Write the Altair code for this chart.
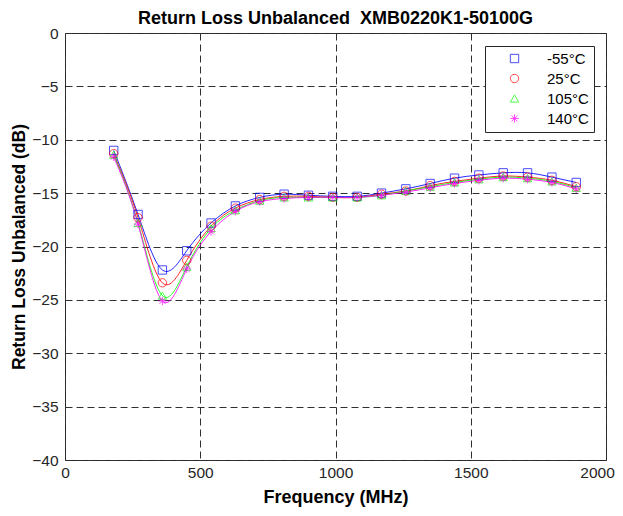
import altair as alt
import pandas as pd

freq = [180, 270, 360, 450, 540, 630, 720, 810, 900, 990, 1080, 1170, 1260, 1350, 1440, 1530, 1620, 1710, 1800, 1890]
m55 = [-11.0, -17.0, -22.2, -20.4, -17.8, -16.2, -15.4, -15.1, -15.2, -15.3, -15.3, -15.0, -14.6, -14.1, -13.6, -13.3, -13.1, -13.1, -13.5, -14.0]
t25 = [-11.3, -17.3, -23.4, -21.3, -18.1, -16.4, -15.6, -15.3, -15.3, -15.4, -15.4, -15.1, -14.8, -14.3, -13.9, -13.6, -13.4, -13.5, -13.8, -14.4]
t105 = [-11.4, -17.8, -24.6, -21.9, -18.3, -16.6, -15.7, -15.4, -15.4, -15.4, -15.4, -15.2, -14.8, -14.4, -14.0, -13.7, -13.5, -13.6, -13.9, -14.5]
t140 = [-11.6, -17.9, -25.1, -22.1, -18.6, -16.7, -15.8, -15.5, -15.4, -15.4, -15.4, -15.2, -14.9, -14.5, -14.1, -13.8, -13.6, -13.7, -14.0, -14.6]

labels = ["-55°C", "25°C", "105°C", "140°C"]
colors = ["#0000ff", "#ff0000", "#00ff00", "#ff00ff"]
asterisk = "M-1,0L1,0M0,-1L0,1M-0.7,-0.7L0.7,0.7M-0.7,0.7L0.7,-0.7"
shapes = ["square", "circle", "triangle-up", asterisk]

rows = []
for lab, series in zip(labels, [m55, t25, t105, t140]):
    for f, v in zip(freq, series):
        rows.append({"freq": f, "rl": v, "temp": lab})
df = pd.DataFrame(rows)

FONT = "Liberation Sans"
TXT = "#262626"

x = alt.X("freq:Q", title="Frequency (MHz)",
          scale=alt.Scale(domain=[0, 2000], nice=False),
          axis=alt.Axis(values=[0, 500, 1000, 1500, 2000], format="d", labelFlush=False,
                        labelOffset={"condition": {"test": "datum.value == 2000", "value": -9}, "value": 0}))
y = alt.Y("rl:Q", title="Return Loss Unbalanced (dB)",
          scale=alt.Scale(domain=[-40, 0], nice=False),
          axis=alt.Axis(values=list(range(-40, 1, 5)), format="d", labelFlush=False))

line_layers = []
for lab, col in zip(labels, colors):
    line_layers.append(
        alt.Chart(df).transform_filter(alt.datum.temp == lab)
        .mark_line(interpolate="natural", strokeWidth=1, opacity=0.85, color=col)
        .encode(x=x, y=y)
    )

legend = alt.Legend(
    title=None, orient="none", legendX=420, legendY=13,
    padding=5, strokeColor=TXT, fillColor="white",
    labelFont=FONT, labelFontSize=15, labelColor="black",
    rowPadding=4, symbolOffset=17, labelOffset=25,
    symbolSize=70, symbolStrokeWidth=1,
)

points = alt.Chart(df).mark_point(filled=False, size=70, strokeWidth=1).encode(
    x=x, y=y,
    color=alt.Color("temp:N", scale=alt.Scale(domain=labels, range=colors), legend=legend),
    shape=alt.Shape("temp:N", scale=alt.Scale(domain=labels, range=shapes), legend=legend),
)

chart = alt.layer(*line_layers, points).properties(
    width=541, height=427,
    autosize=alt.AutoSizeParams(type="none"),
    padding={"left": 57, "top": 25, "right": 9, "bottom": 48},
    title=alt.TitleParams("Return Loss Unbalanced\u00a0 XMB0220K1-50100G",
                          font=FONT, fontSize=18, fontWeight="bold", color="black",
                          anchor="middle", offset=-2, frame="group"),
).configure_view(
    stroke=TXT, strokeWidth=1, fill="white"
).configure_axis(
    grid=True, gridColor="#303030", gridDash=[7, 4], gridWidth=1, gridOpacity=1,
    domain=False, ticks=False, tickSize=0,
    labelFont=FONT, labelFontSize=15.5, labelColor=TXT,
    titleFont=FONT, titleFontSize=18, titleFontWeight="bold", titleColor="black",
).configure_axisX(
    labelPadding=5, titlePadding=8,
).configure_axisY(
    labelPadding=7, titlePadding=3, titleFontSize=17.5,
)

chart.save("out.html", embed_options={"renderer": "svg", "actions": False})
